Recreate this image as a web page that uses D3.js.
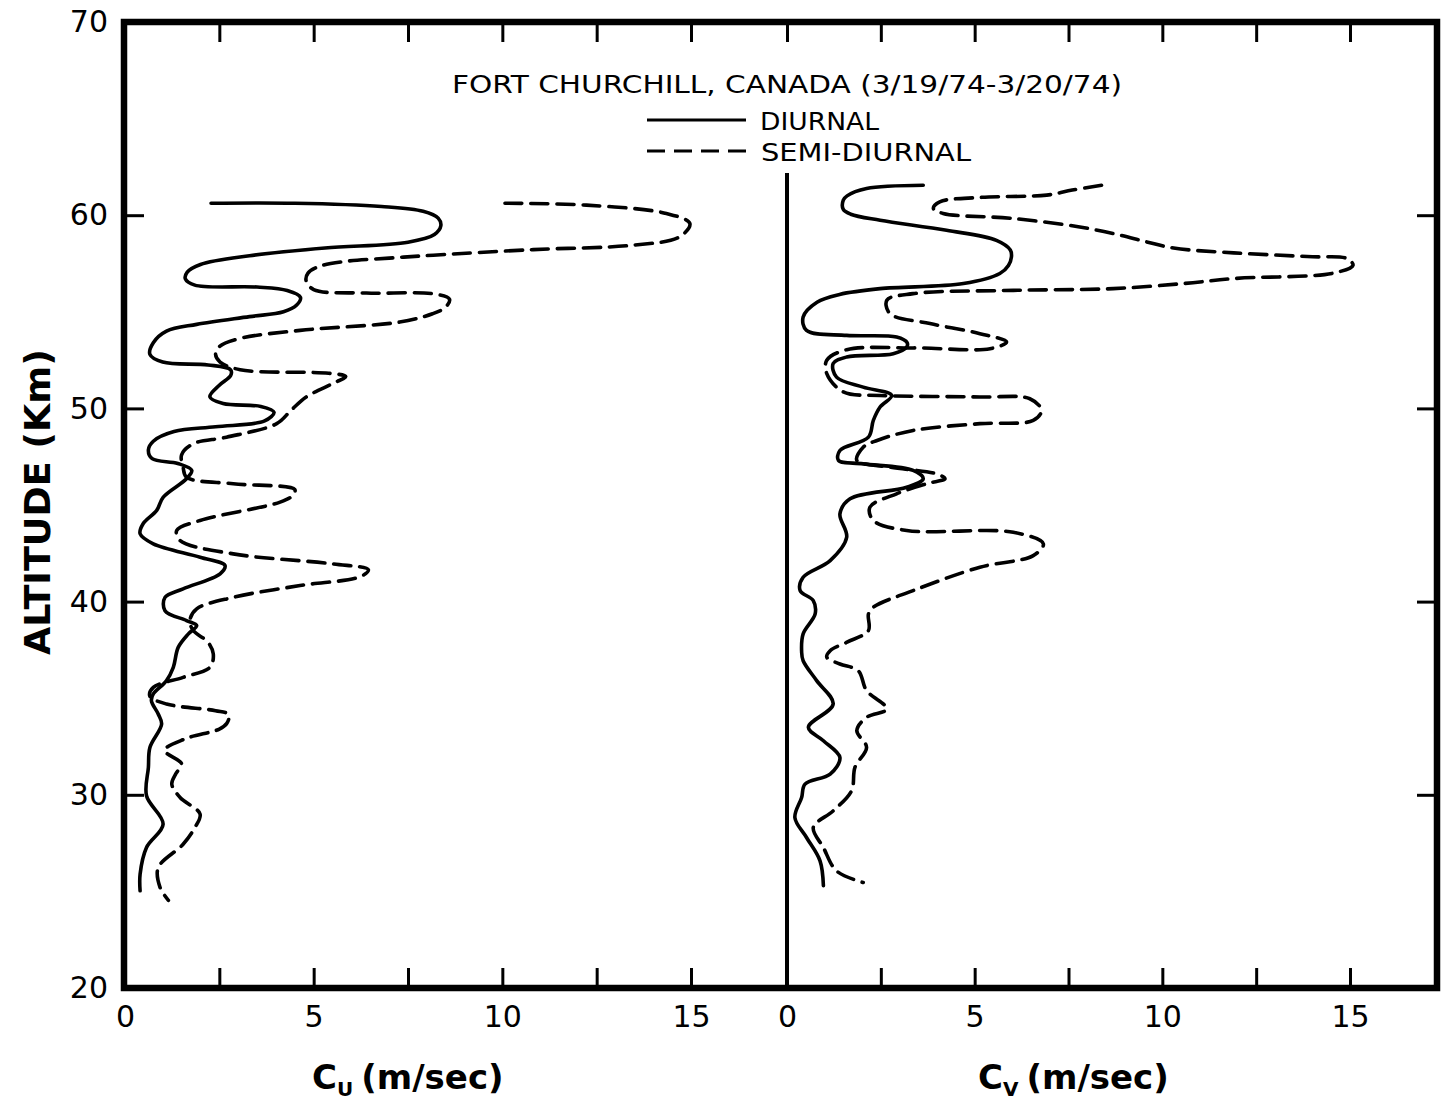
<!DOCTYPE html>
<html><head><meta charset="utf-8">
<script src="https://cdn.jsdelivr.net/npm/d3@7"></script>
<style>
html,body{margin:0;padding:0;background:#fff;}
svg{display:block;}
text{font-family:"DejaVu Sans",sans-serif;fill:#000;}
</style></head>
<body>
<svg id="chart" width="1444" height="1101"></svg>
<script>
// ---- data: [altitude (km), amplitude (m/sec)] ----
const cuDiurnal = [[60.62,2.28],[60.62,4.5],[60.45,6.8],[60.2,7.9],[59.85,8.3],[59.45,8.37],[59.0,8.2],[58.6,7.5],[58.3,5.3],[57.9,3.3],[57.45,2.0],[57.05,1.65],[56.7,1.6],[56.38,1.85],[56.28,3.5],[56.1,4.3],[55.75,4.65],[55.35,4.55],[55.0,4.2],[54.75,3.3],[54.35,1.9],[54.0,1.1],[53.4,0.75],[52.8,0.66],[52.4,1.0],[52.25,2.2],[52.0,2.8],[51.7,2.8],[51.2,2.5],[50.6,2.25],[50.25,2.6],[50.1,3.6],[49.8,3.95],[49.35,3.7],[49.05,2.4],[48.8,1.3],[48.3,0.75],[47.85,0.62],[47.4,0.72],[47.15,1.4],[46.79,1.77],[46.36,1.63],[45.4,1.01],[44.72,0.84],[44.03,0.48],[43.51,0.40],[42.99,0.75],[42.3,1.99],[41.87,2.65],[41.44,2.52],[40.66,1.54],[40.22,1.06],[39.53,1.06],[39.02,1.63],[38.76,1.90],[38.33,1.68],[37.63,1.41],[36.6,1.28],[35.91,1.10],[35.22,0.75],[34.87,0.7],[34.18,0.88],[33.66,0.97],[32.45,0.66],[31.42,0.62],[29.95,0.57],[28.48,1.01],[27.27,0.57],[25.89,0.40],[25.03,0.40]];

const cuSemiDiurnal = [[60.62,10.07],[60.52,12.23],[60.09,14.35],[59.57,14.97],[58.88,14.7],[58.45,13.47],[58.22,10.82],[57.93,8.17],[57.78,7.0],[57.6,5.8],[57.35,5.15],[57.0,4.85],[56.6,4.8],[56.15,5.0],[55.97,6.4],[55.93,8.17],[55.65,8.6],[55.25,8.5],[54.9,8.15],[54.47,7.28],[54.04,4.64],[53.6,3.0],[53.2,2.5],[52.8,2.4],[52.4,2.52],[52.0,3.05],[51.82,5.4],[51.65,5.85],[51.3,5.52],[50.6,4.81],[49.9,4.4],[49.21,4.02],[48.51,2.69],[48.17,1.81],[47.6,1.5],[46.96,1.54],[46.44,1.63],[46.1,2.87],[45.8,4.5],[45.5,4.45],[45.15,4.11],[44.2,1.99],[43.68,1.37],[43.16,1.46],[42.47,2.87],[41.95,5.52],[41.65,6.45],[41.3,6.25],[40.83,4.64],[40.22,2.87],[39.62,1.90],[39.02,1.72],[38.5,1.81],[37.9,2.2],[37.29,2.34],[36.6,2.25],[36.08,1.54],[35.56,0.75],[35.1,0.66],[34.7,1.1],[34.35,2.4],[34.15,2.75],[33.7,2.7],[33.4,2.5],[32.9,1.6],[32.3,1.05],[31.6,1.5],[31.1,1.35],[30.55,1.24],[29.86,1.46],[29.0,1.99],[28.3,1.85],[27.44,1.54],[26.23,0.88],[25.2,0.93],[24.54,1.15]];

const cvDiurnal = [[61.55,3.63],[61.38,2.12],[61.0,1.6],[60.78,1.5],[60.3,1.5],[60.05,1.7],[59.74,2.48],[59.22,4.25],[58.70,5.58],[58.2,5.95],[57.84,5.98],[57.4,5.9],[56.98,5.67],[56.46,4.70],[56.2,2.48],[55.9,1.4],[55.5,0.8],[54.73,0.43],[54.04,0.52],[53.78,1.59],[53.69,2.92],[53.4,3.2],[53.18,3.19],[52.83,2.83],[52.66,1.59],[52.32,1.23],[51.62,1.32],[51.1,2.03],[50.67,2.79],[50.07,2.48],[49.38,2.30],[48.51,2.17],[47.82,1.41],[47.31,1.37],[47.13,2.03],[46.79,3.36],[46.36,3.63],[45.92,3.19],[45.32,1.68],[44.54,1.41],[43.33,1.59],[42.12,1.15],[41.26,0.43],[40.57,0.35],[40.05,0.70],[39.36,0.75],[38.33,0.43],[37.4,0.39],[36.94,0.43],[35.91,0.79],[34.7,1.23],[33.49,0.57],[32.8,0.97],[31.93,1.41],[31.07,1.15],[30.55,0.48],[29.86,0.39],[28.82,0.21],[27.79,0.52],[26.58,0.88],[25.29,0.97]];

const cvSemiDiurnal = [[61.55,8.38],[61.3,7.6],[61.04,6.92],[60.92,5.14],[60.69,4.07],[60.35,3.90],[60.09,4.16],[59.83,6.03],[59.39,7.80],[59.0,8.8],[58.62,9.58],[58.3,10.3],[58.05,11.9],[57.85,14.0],[57.76,14.91],[57.41,15.08],[57.0,14.55],[56.72,11.89],[56.46,10.55],[56.2,8.69],[56.11,6.03],[55.94,3.36],[55.6,2.66],[54.91,2.74],[54.39,3.81],[53.87,5.14],[53.44,5.85],[53.09,5.41],[53.13,3.36],[53.04,1.59],[52.49,1.06],[51.8,1.06],[50.85,1.50],[50.67,2.48],[50.59,5.14],[50.5,6.47],[49.9,6.78],[49.38,6.56],[49.21,5.14],[48.86,3.36],[48.34,2.4],[47.99,2.03],[47.31,1.86],[46.96,2.74],[46.61,3.99],[46.36,4.21],[46.1,3.72],[45.58,2.92],[44.89,2.21],[44.2,2.30],[43.68,3.19],[43.59,6.03],[42.99,6.83],[42.38,6.56],[41.78,5.14],[40.57,3.36],[39.71,2.30],[39.36,2.17],[38.5,2.17],[37.9,1.6],[37.46,1.15],[37.12,1.06],[36.77,1.41],[36.42,1.90],[35.39,2.12],[34.44,2.66],[34.01,2.12],[33.32,1.86],[32.45,2.12],[31.42,1.81],[30.21,1.72],[29.17,1.23],[28.31,0.70],[27.27,0.97],[26.06,1.32],[25.46,2.03]];

const altTicks = [20,30,40,50,60,70];
const speedTicks = [0,2.5,5,7.5,10,12.5,15];
const speedLabels = [0,5,10,15];
const titleText = "FORT CHURCHILL, CANADA (3/19/74-3/20/74)";
const legendNames = ["DIURNAL","SEMI-DIURNAL"];
const yTitle = "ALTITUDE (Km)";

// ---- layout ----
const svg = d3.select("#chart");
const frameTop = 22, frameBottom = 988, frameLeft = 124, frameRight = 1437, dividerX = 787;
const y = d3.scaleLinear().domain([20,70]).range([frameBottom, frameTop]);
const xL = d3.scaleLinear().domain([0,15]).range([125, 691]);
const xR = d3.scaleLinear().domain([0,15]).range([787, 1350]);

function styleAxis(g){
  g.select(".domain").remove();
  g.selectAll(".tick line").attr("stroke","#000").attr("stroke-width",3);
  g.selectAll(".tick text").attr("font-family","DejaVu Sans").attr("font-size",30).attr("fill","#000");
}
const fmt = d => speedLabels.includes(d) ? d : "";
svg.append("g").attr("transform",`translate(0,${frameBottom})`)
  .call(d3.axisBottom(xL).tickValues(speedTicks).tickSizeInner(-20).tickSizeOuter(0).tickPadding(18).tickFormat(fmt)).call(styleAxis);
svg.append("g").attr("transform",`translate(0,${frameBottom})`)
  .call(d3.axisBottom(xR).tickValues(speedTicks).tickSizeInner(-20).tickSizeOuter(0).tickPadding(18).tickFormat(fmt)).call(styleAxis);
svg.append("g").attr("transform",`translate(0,${frameTop})`)
  .call(d3.axisTop(xL).tickValues(speedTicks).tickSizeInner(-20).tickSizeOuter(0).tickFormat("")).call(styleAxis);
svg.append("g").attr("transform",`translate(0,${frameTop})`)
  .call(d3.axisTop(xR).tickValues(speedTicks).tickSizeInner(-20).tickSizeOuter(0).tickFormat("")).call(styleAxis);
svg.append("g").attr("transform",`translate(${frameLeft},0)`)
  .call(d3.axisLeft(y).tickValues(altTicks).tickSizeInner(-20).tickSizeOuter(0).tickPadding(16).tickFormat(d3.format("d"))).call(styleAxis);
svg.append("g").attr("transform",`translate(${frameRight},0)`)
  .call(d3.axisRight(y).tickValues(altTicks).tickSizeInner(-20).tickSizeOuter(0).tickFormat("")).call(styleAxis);

// frame
svg.append("rect").attr("x",frameLeft).attr("y",frameTop).attr("width",frameRight-frameLeft).attr("height",frameBottom-frameTop)
  .attr("fill","none").attr("stroke","#000").attr("stroke-width",6.5);
// divider
svg.append("line").attr("x1",dividerX).attr("x2",dividerX).attr("y1",173).attr("y2",frameBottom)
  .attr("stroke","#000").attr("stroke-width",4);

// curves
function drawProfile(data, xs, dashed){
  const line = d3.line().x(d => xs(d[1])).y(d => y(d[0])).curve(d3.curveCatmullRom.alpha(0.5));
  svg.append("path").datum(data).attr("d", line)
    .attr("fill","none").attr("stroke","#000").attr("stroke-width",3.6)
    .attr("stroke-linecap","round").attr("stroke-linejoin","round")
    .attr("stroke-dasharray", dashed ? "17,9" : null);
}
drawProfile(cuDiurnal, xL, false);
drawProfile(cuSemiDiurnal, xL, true);
drawProfile(cvDiurnal, xR, false);
drawProfile(cvSemiDiurnal, xR, true);

// title & legend
svg.append("text").attr("x",452).attr("y",93).attr("font-size",24)
  .attr("textLength",670).attr("lengthAdjust","spacingAndGlyphs").text(titleText);
svg.append("line").attr("x1",647).attr("x2",746).attr("y1",120).attr("y2",120)
  .attr("stroke","#000").attr("stroke-width",3);
svg.append("line").attr("x1",647).attr("x2",746).attr("y1",151).attr("y2",151)
  .attr("stroke","#000").attr("stroke-width",3).attr("stroke-dasharray","18,9");
svg.append("text").attr("x",760).attr("y",130).attr("font-size",25)
  .attr("textLength",119).attr("lengthAdjust","spacingAndGlyphs").text(legendNames[0]);
svg.append("text").attr("x",761).attr("y",161).attr("font-size",25)
  .attr("textLength",210).attr("lengthAdjust","spacingAndGlyphs").text(legendNames[1]);

// axis titles
svg.append("text").attr("transform","translate(50,502) rotate(-90)").attr("text-anchor","middle")
  .attr("font-size",35).attr("font-weight","bold")
  .attr("textLength",306).attr("lengthAdjust","spacingAndGlyphs").text(yTitle);

function xTitle(x, sub){
  const t = svg.append("text").attr("x",x).attr("y",1089).attr("font-weight","bold").attr("font-size",34);
  t.append("tspan").text("C");
  t.append("tspan").attr("font-size",20).attr("dy",7).text(sub);
  t.append("tspan").attr("dy",-7).attr("dx",8).text("(m/sec)");
}
xTitle(312, "U");
xTitle(978, "V");
</script>
</body></html>
